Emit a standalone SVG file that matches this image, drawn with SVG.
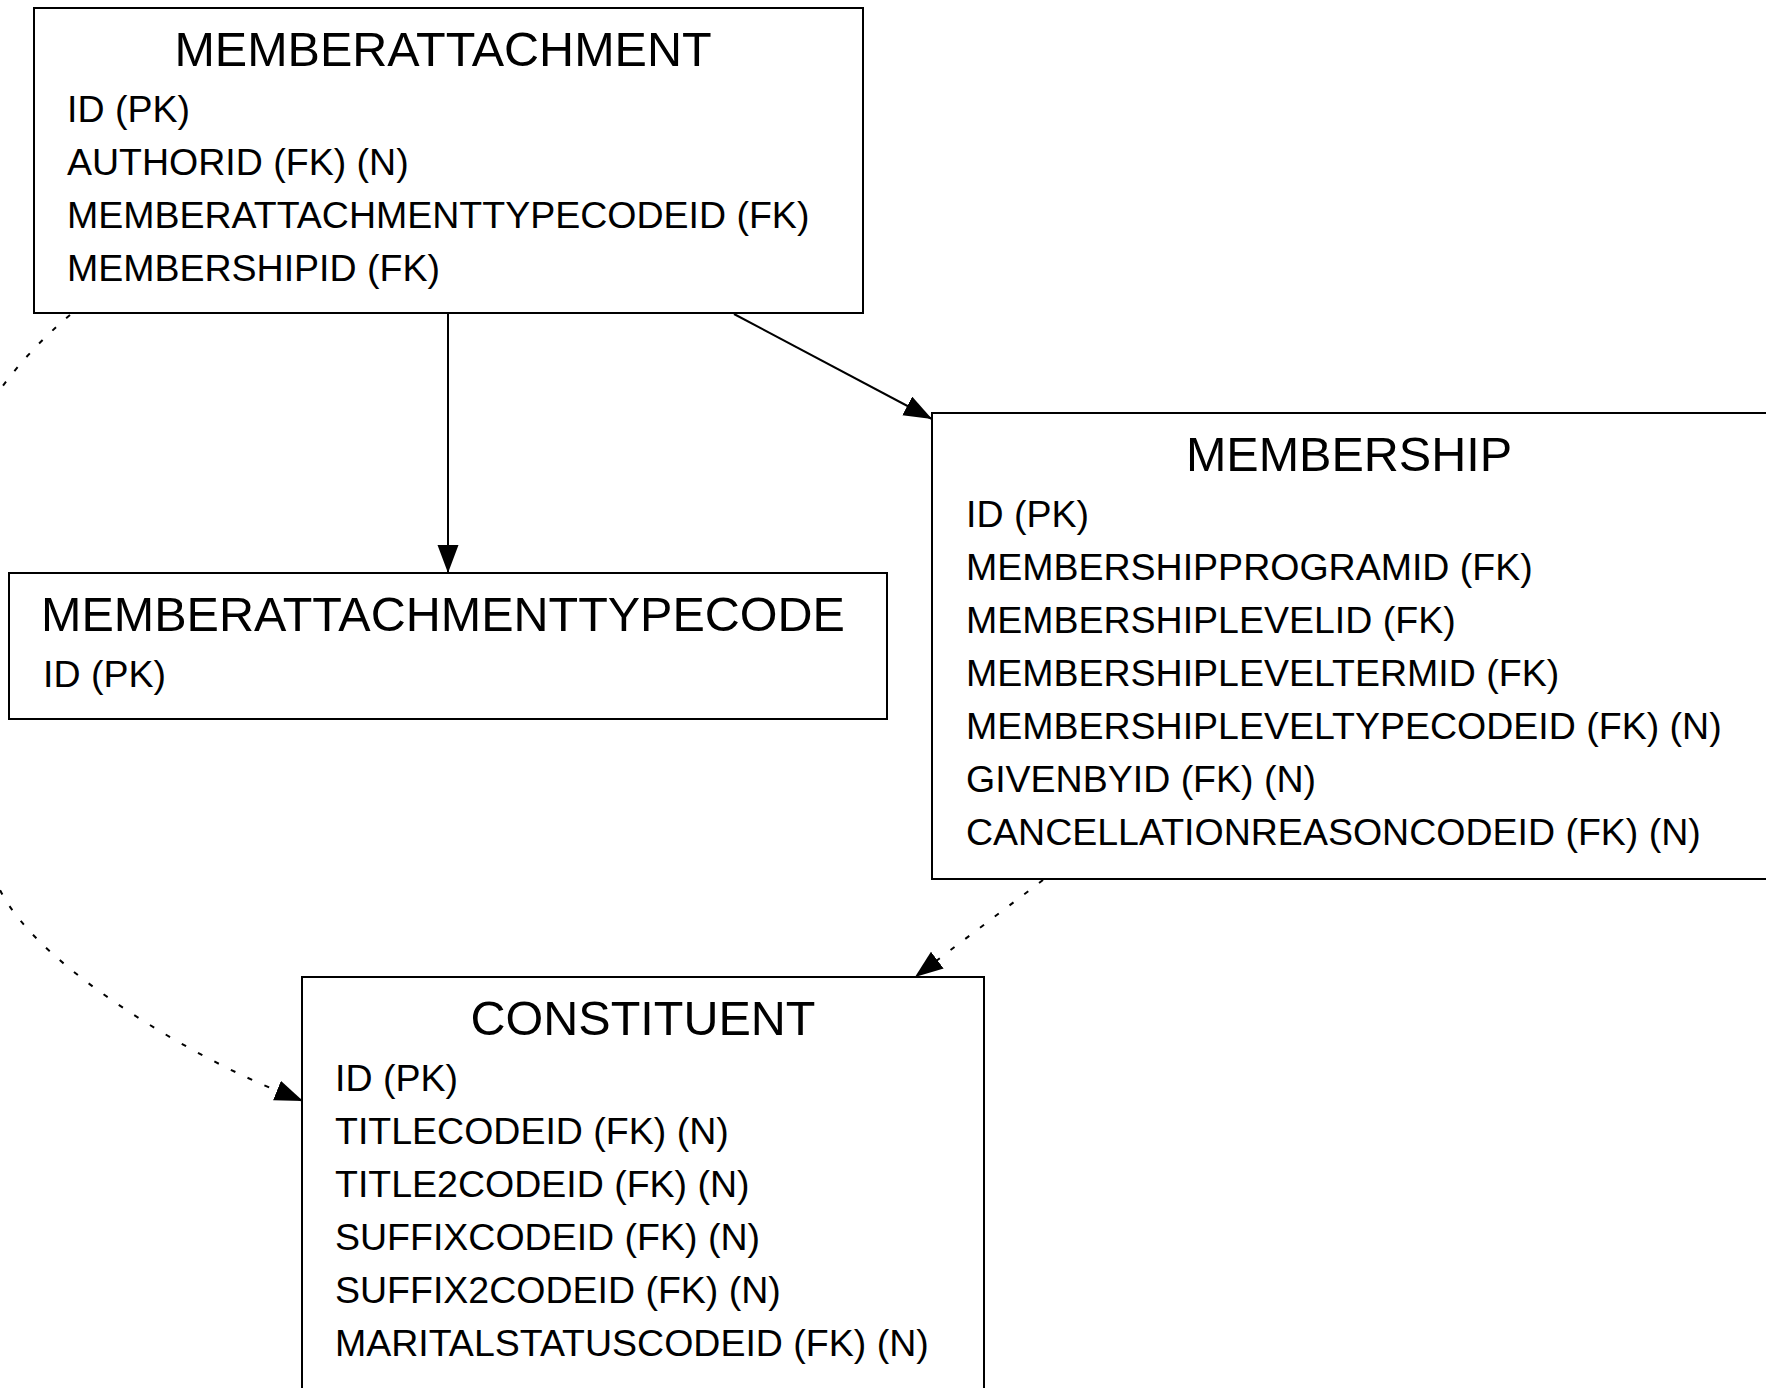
<svg xmlns="http://www.w3.org/2000/svg" width="1766" height="1388" viewBox="0 0 1766 1388">
<style>
.box{fill:#fff;stroke:#000;stroke-width:2}
.title{font-family:"Liberation Sans",Arial,sans-serif;font-size:48.5px;text-anchor:middle;fill:#000}
.row{font-family:"Liberation Sans",Arial,sans-serif;font-size:37.5px;fill:#000}
.edge{fill:none;stroke:#000;stroke-width:2}
.dot{stroke-dasharray:5,13.5}
</style>
<defs>
<marker id="arr" markerUnits="userSpaceOnUse" markerWidth="30" markerHeight="24" refX="28" refY="10.5" orient="auto">
<path d="M0,0 L28,10.5 L0,21 z" fill="#000"/>
</marker>
</defs>
<rect width="1766" height="1388" fill="#fff"/>
<g id="connectors">
<path class="edge" d="M448,313 L448,573" marker-end="url(#arr)"/>
<path class="edge" d="M734,314 L932,419" marker-end="url(#arr)"/>
<path class="edge dot" d="M1043,880 L915,977" marker-end="url(#arr)"/>
<path class="edge dot" d="M70,315 C-150,500 -60,770 0,890 C40,970 200,1060 278,1091 L303,1101" marker-end="url(#arr)"/>
</g>
<g id="MEMBERATTACHMENT">
<rect class="box" x="34" y="8" width="829" height="305"/>
<text class="title" x="443" y="66">MEMBERATTACHMENT</text>
<text class="row" x="67" y="122">ID (PK)</text>
<text class="row" x="67" y="175">AUTHORID (FK) (N)</text>
<text class="row" x="67" y="228">MEMBERATTACHMENTTYPECODEID (FK)</text>
<text class="row" x="67" y="281">MEMBERSHIPID (FK)</text>
</g>
<g id="MEMBERATTACHMENTTYPECODE">
<rect class="box" x="9" y="573" width="878" height="146"/>
<text class="title" x="443" y="631">MEMBERATTACHMENTTYPECODE</text>
<text class="row" x="43" y="687">ID (PK)</text>
</g>
<g id="MEMBERSHIP">
<rect class="box" x="932" y="413" width="840" height="466"/>
<text class="title" x="1349" y="471">MEMBERSHIP</text>
<text class="row" x="966" y="527">ID (PK)</text>
<text class="row" x="966" y="580">MEMBERSHIPPROGRAMID (FK)</text>
<text class="row" x="966" y="633">MEMBERSHIPLEVELID (FK)</text>
<text class="row" x="966" y="686">MEMBERSHIPLEVELTERMID (FK)</text>
<text class="row" x="966" y="739">MEMBERSHIPLEVELTYPECODEID (FK) (N)</text>
<text class="row" x="966" y="792">GIVENBYID (FK) (N)</text>
<text class="row" x="966" y="845">CANCELLATIONREASONCODEID (FK) (N)</text>
</g>
<g id="CONSTITUENT">
<rect class="box" x="302" y="977" width="682" height="430"/>
<text class="title" x="643" y="1035">CONSTITUENT</text>
<text class="row" x="335" y="1091">ID (PK)</text>
<text class="row" x="335" y="1144">TITLECODEID (FK) (N)</text>
<text class="row" x="335" y="1197">TITLE2CODEID (FK) (N)</text>
<text class="row" x="335" y="1250">SUFFIXCODEID (FK) (N)</text>
<text class="row" x="335" y="1303">SUFFIX2CODEID (FK) (N)</text>
<text class="row" x="335" y="1356">MARITALSTATUSCODEID (FK) (N)</text>
</g>
</svg>
